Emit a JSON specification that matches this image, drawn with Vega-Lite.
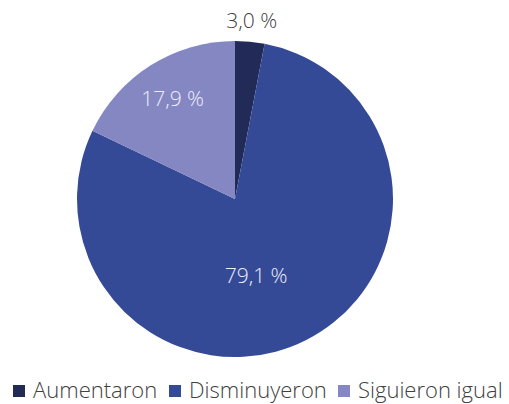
{
  "$schema": "https://vega.github.io/schema/vega-lite/v6.json",
  "width": 470,
  "height": 398,
  "padding": {"left": 0, "top": 0, "right": 39, "bottom": 6},
  "autosize": {"type": "none"},
  "background": "white",
  "config": {"view": {"stroke": null}, "font": "Open Sans"},
  "data": {"values": [
    {"cat": "Aumentaron", "pct": 3.0, "ord": 1, "label": "3,0 %"},
    {"cat": "Disminuyeron", "pct": 79.1, "ord": 2, "label": "79,1 %"},
    {"cat": "Siguieron igual", "pct": 17.9, "ord": 3, "label": "17,9 %"}
  ]},
  "encoding": {
    "theta": {"field": "pct", "type": "quantitative", "stack": true},
    "order": {"field": "ord", "type": "quantitative"}
  },
  "layer": [
    {
      "mark": {"type": "arc", "outerRadius": 158},
      "encoding": {
        "color": {
          "field": "cat", "type": "nominal",
          "scale": {"domain": ["Aumentaron", "Disminuyeron", "Siguieron igual"], "range": ["#222a58", "#354a96", "#8587c3"]},
          "legend": {
            "title": null, "orient": "none", "direction": "horizontal",
            "legendX": 8, "legendY": 380, "padding": 0,
            "symbolType": "square", "symbolSize": 144, "symbolStrokeWidth": 0,
            "labelFont": "Open Sans", "labelFontWeight": 300, "labelFontSize": 22, "labelColor": "#404040",
            "columnPadding": 6, "symbolOffset": 0, "labelOffset": 3, "labelLimit": 300
          }
        }
      }
    },
    {
      "mark": {"type": "text", "radius": 178, "fontSize": 21, "fontWeight": 300, "color": "#404040"},
      "encoding": {
        "text": {"condition": {"test": "datum.cat === 'Aumentaron'", "field": "label"}, "value": ""}
      }
    },
    {
      "mark": {"type": "text", "radius": 117, "fontSize": 21, "fontWeight": 300, "color": "#eeeef8"},
      "encoding": {
        "text": {"condition": {"test": "datum.cat === 'Siguieron igual'", "field": "label"}, "value": ""}
      }
    },
    {
      "mark": {"type": "text", "radius": 80, "dx": -15, "dy": 7, "fontSize": 21, "fontWeight": 300, "color": "#eeeef8"},
      "encoding": {
        "text": {"condition": {"test": "datum.cat === 'Disminuyeron'", "field": "label"}, "value": ""}
      }
    }
  ]
}
